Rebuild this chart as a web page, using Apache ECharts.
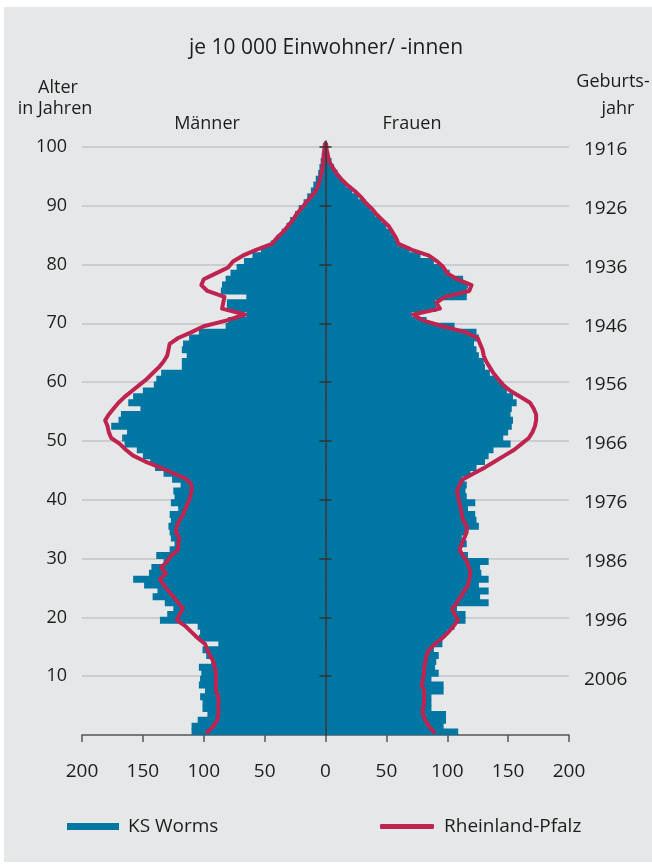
<!DOCTYPE html>
<html>
<head>
<meta charset="utf-8">
<script src="https://cdn.jsdelivr.net/npm/echarts@6/dist/echarts.min.js"></script>
<style>
html, body { margin: 0; padding: 0; background: #ffffff; }
#panel { position: absolute; left: 4px; top: 7px; width: 648px; height: 855px; background: #e6e7e8; }
#main { position: absolute; left: 0; top: 0; width: 652px; height: 865px; }
</style>
</head>
<body>
<div id="panel"></div>
<div id="main"></div>
<script>
// Alter 0..100
var ages = [];
for (var i = 0; i <= 100; i++) ages.push(String(i));

// KS Worms, je 10 000 Einwohner/-innen
var wormsMaenner = [110,110,105,97,101,101,103,99,104,103,
                    102,104,94,98,101,88,104,103,105,136,
                    130,125,132,142,138,149,158,145,143,133,
                    139,128,124,127,128,129,127,128,121,127,
                    124,125,119,126,133,140,144,150,155,165,
                    167,163,176,170,168,152,162,158,150,141,
                    139,135,118,118,114,118,117,112,104,82,
                    80,65,81,81,65,86,85,82,78,73,
                    67,60,53,45,40,36,32,29,25,22,
                    18,15,12,10,8,6,5,4,3,2,1];
var wormsFrauen = [109,97,99,99,87,87,87,97,97,87,
                   93,90,91,93,89,96,96,100,106,115,
                   115,108,134,127,134,126,134,128,127,134,
                   117,112,116,112,116,126,124,123,117,123,
                   116,115,116,112,119,124,131,134,138,152,
                   146,150,153,154,152,153,157,154,149,146,
                   141,135,131,130,126,124,122,126,124,106,
                   83,71,91,90,116,116,117,113,102,97,
                   89,78,69,60,57,54,50,46,41,37,
                   33,27,22,17,13,10,7,5,3,2,1];

// Rheinland-Pfalz
var rlpMaenner = [97,92,89,88,88,88,88,90,90,90,
                  90,91,92,95,97,99,105,110,115,122,
                  120,117,121,125,129,133,136,131,135,130,
                  127,121,121,120,123,122,120,117,115,113,
                  111,110,110,114,125,136,148,158,164,169,
                  176,178,179,181,178,174,170,165,159,153,
                  147,142,137,133,130,129,128,121,110,100,
                  81,66,85,84,83,97,102,100,90,80,
                  76,68,57,44,40,35,31,27,24,20,
                  16,12,8,6,4.5,3.5,2.5,2,1.5,1,0.5];
var rlpFrauen = [89,85,82,80,80,81,81,81,79,80,
                 81,81,82,83,85,90,96,101,105,109,
                 106,104,108,111,114,117,118,119,118,116,
                 113,110,112,114,116,116,113,112,111,110,
                 109,108,110,113,122,131,139,147,155,161,
                 167,170,172,173,173,171,168,160,152,146,
                 142,138,135,132,130,129,127,125,115,96,
                 80,72,94,91,98,118,120,108,100,97,
                 92,85,71,60,58,55,52,47,42,38,
                 33,29,24,18,13,9,6,3,2,1,0.5];

var xTicks = [-200, -150, -100, -50, 0, 50, 100, 150, 200];
var ageTicks = [10, 20, 30, 40, 50, 60, 70, 80, 90, 100];
var berichtsjahr = 2016;

var blau = '#0076a3';
var rot = '#be2450';
var schrift = '#1d1d1b';
var font = 'Open Sans';

function negate(arr) {
  return arr.map(function (v) { return -v; });
}

function BevoelkerungsPyramide(elementId) {
  var myChart = echarts.init(document.getElementById(elementId));

  function txt(x, y, s) {
    return { type: 'text', x: x, y: y,
      style: { text: s, font: '18px "Open Sans"', fill: schrift, textAlign: 'center', textVerticalAlign: 'middle' } };
  }

  var option = {
    animation: false,
    textStyle: { fontFamily: font, color: schrift },
    title: {
      text: 'je 10 000 Einwohner/ -innen',
      left: 'center',
      top: 33,
      textStyle: { fontFamily: font, fontSize: 21, fontWeight: 'normal', color: schrift }
    },
    graphic: [
      txt(58, 88, 'Alter'),
      txt(55, 109, 'in Jahren'),
      txt(207, 124, 'Männer'),
      txt(412, 124, 'Frauen'),
      txt(613, 82, 'Geburts-'),
      txt(618, 109, 'jahr')
    ],
    legend: [
      {
        data: [{ name: 'KS Worms', icon: 'rect' }],
        left: 67, top: 817, padding: 0,
        itemWidth: 52, itemHeight: 7,
        textStyle: { fontFamily: font, fontSize: 19, color: schrift, padding: [0, 0, 0, 4] }
      },
      {
        data: [{ name: 'Rheinland-Pfalz', icon: 'roundRect' }],
        left: 380, top: 817, padding: 0,
        itemWidth: 54, itemHeight: 5,
        textStyle: { fontFamily: font, fontSize: 19, color: schrift, padding: [0, 0, 0, 5] }
      }
    ],
    grid: { left: 82, right: 83, top: 141, bottom: 130 },
    xAxis: {
      type: 'value',
      min: -200, max: 200, interval: 50,
      axisLine: { show: true, onZero: false, lineStyle: { color: '#555', width: 1.5 } },
      axisTick: { show: true, length: 7, lineStyle: { color: '#555', width: 1.5 }, customValues: xTicks },
      axisLabel: { margin: 27, fontSize: 19, fontFamily: font, color: schrift, customValues: xTicks,
        formatter: function (v) { return String(Math.abs(v)); } },
      splitLine: { show: false }
    },
    yAxis: [
      {
        // Kategorien fuer die Balken
        type: 'category', data: ages, boundaryGap: true, position: 'left',
        axisLine: { show: false, onZero: false }, axisTick: { show: false },
        axisLabel: { show: false }, splitLine: { show: false }
      },
      {
        // Gitterlinien und Alter links
        type: 'value', min: 0, max: 101, interval: 10, position: 'left',
        axisLine: { show: false, onZero: false }, axisTick: { show: false },
        axisLabel: { margin: 15, fontSize: 18, fontFamily: font, color: schrift, customValues: ageTicks },
        splitLine: { show: true, showMinLine: false, showMaxLine: false,
          lineStyle: { color: '#c3c4c6', width: 1.5 } },
        z: 0
      },
      {
        // Mittellinie
        type: 'value', min: 0, max: 101, interval: 10, position: 'left',
        axisLine: { show: true, onZero: true, onZeroAxisIndex: 0, lineStyle: { color: '#333', width: 1.5 } },
        axisTick: { show: true, length: 6, customValues: ageTicks, lineStyle: { color: '#333', width: 1.5 } },
        axisLabel: { show: false }, splitLine: { show: false },
        z: 5
      },
      {
        type: 'value', min: 0, max: 101, interval: 10, position: 'right',
        axisLine: { show: false, onZero: true, onZeroAxisIndex: 0 },
        axisTick: { show: true, length: 6, customValues: ageTicks, lineStyle: { color: '#333', width: 1.5 } },
        axisLabel: { show: false }, splitLine: { show: false },
        z: 5
      },
      {
        // Geburtsjahr rechts
        type: 'value', min: 0.5, max: 101.5, position: 'right',
        axisLine: { show: false, onZero: false }, axisTick: { show: false },
        axisLabel: { margin: 15, fontSize: 19, fontFamily: font, color: schrift, customValues: ageTicks,
          formatter: function (v) { return String(berichtsjahr - v); } },
        splitLine: { show: false }
      }
    ],
    series: [
      {
        name: 'KS Worms', type: 'bar', yAxisIndex: 0,
        data: negate(wormsMaenner),
        barWidth: 7, barGap: '-100%',
        itemStyle: { color: blau }
      },
      {
        name: 'KS Worms', type: 'bar', yAxisIndex: 0,
        data: wormsFrauen,
        barWidth: 7, barGap: '-100%',
        itemStyle: { color: blau }
      },
      {
        name: 'Rheinland-Pfalz', type: 'line', yAxisIndex: 0,
        data: negate(rlpMaenner),
        symbol: 'none',
        lineStyle: { color: rot, width: 4, join: 'round', cap: 'round' },
        itemStyle: { color: rot },
        z: 4
      },
      {
        name: 'Rheinland-Pfalz', type: 'line', yAxisIndex: 0,
        data: rlpFrauen,
        symbol: 'none',
        lineStyle: { color: rot, width: 4, join: 'round', cap: 'round' },
        itemStyle: { color: rot },
        z: 4
      }
    ]
  };

  myChart.setOption(option);
  return myChart;
}

BevoelkerungsPyramide('main');
</script>
</body>
</html>
